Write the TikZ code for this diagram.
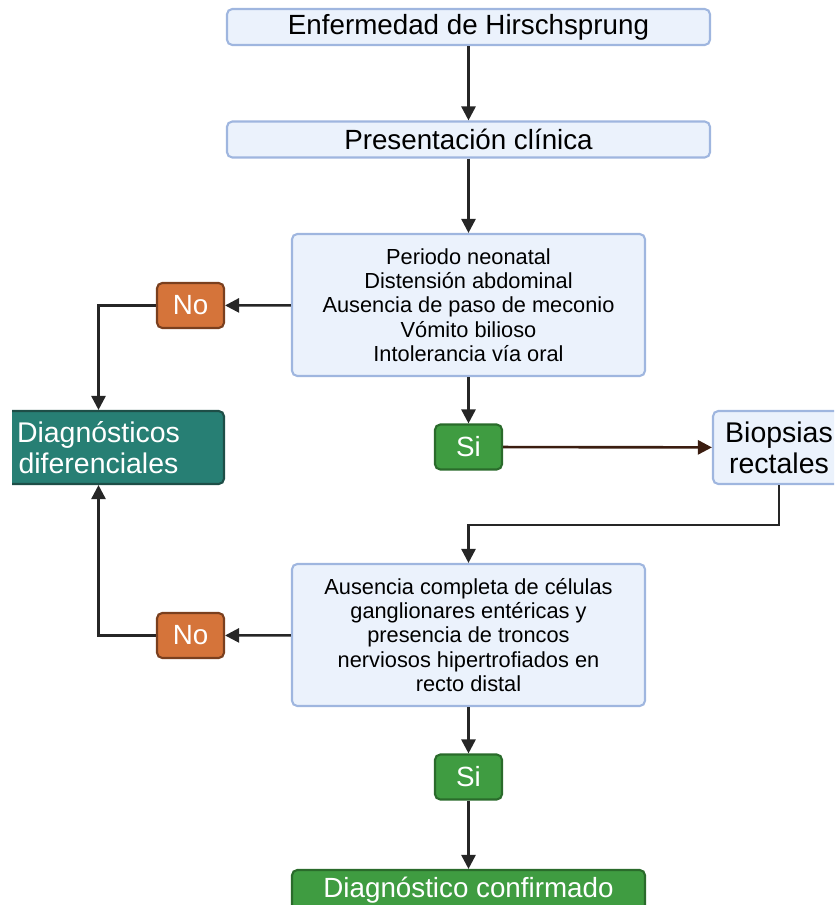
\documentclass[tikz,border=0pt]{standalone}
\usepackage{fontspec}
\setmainfont{Liberation Sans}
\usepackage{xcolor}
\usepackage{tikz}
\usetikzlibrary{arrows.meta, positioning}

\definecolor{boxfill}{HTML}{EBF2FC}
\definecolor{boxline}{HTML}{9FB6DF}
\definecolor{nofill}{HTML}{D5743A}
\definecolor{noline}{HTML}{7A3F1E}
\definecolor{sifill}{HTML}{3F9C41}
\definecolor{siline}{HTML}{2A6B2B}
\definecolor{diffill}{HTML}{277F74}
\definecolor{difline}{HTML}{1E4E47}
\definecolor{wire}{HTML}{262626}
\definecolor{brownwire}{HTML}{3B1D10}

\tikzset{
	box/.style={draw=boxline, fill=boxfill, line width=1.2pt, rounded corners=3pt, align=center, inner sep=0pt, text=black},
	bigbox/.style={box, minimum width=9.66cm, minimum height=0.72cm, font=\fontsize{15.8}{18}\selectfont},
	textbox/.style={box, minimum width=7.06cm, minimum height=2.84cm, font=\fontsize{12.4}{13.8}\selectfont},
	nobox/.style={draw=noline, fill=nofill, line width=1.2pt, rounded corners=3pt, minimum width=1.34cm, minimum height=0.9cm, inner sep=0pt, text=white, font=\fontsize{15.8}{18}\selectfont},
	sibox/.style={nobox, draw=siline, fill=sifill},
	difbox/.style={draw=difline, fill=diffill, line width=1.2pt, rounded corners=3pt, minimum width=5.02cm, minimum height=1.46cm, inner sep=0pt, align=center, text=white, font=\fontsize{16.2}{17.6}\selectfont},
	wirearrow/.style={draw=wire, line width=1.5pt, -{Triangle[length=8pt, width=8pt]}},
}

\begin{document}
\begin{tikzpicture}
	\useasboundingbox (0,0) rectangle (16.68,-18.1);
	\clip (0.24,0) rectangle (16.68,-18.1);
	% Main column:
	\node[bigbox] (hirsch) at (9.37,-0.54) {Enfermedad de Hirschsprung};
	\node[bigbox] (clinica) at (9.37,-2.79) {Presentación clínica};
	\node[textbox] (sintomas) at (9.37,-6.10) {Periodo neonatal\\Distensión abdominal\\Ausencia de paso de meconio\\Vómito bilioso\\Intolerancia vía oral};
	\node[sibox] (si1) at (9.37,-8.94) {Si};
	\node[textbox] (histo) at (9.37,-12.70) {Ausencia completa de células\\ganglionares entéricas y\\presencia de troncos\\nerviosos hipertrofiados en\\recto distal};
	\node[sibox] (si2) at (9.37,-15.54) {Si};
	\node[sibox, minimum width=7.06cm, minimum height=0.8cm] (confirmado) at (9.37,-17.8) {Diagnóstico confirmado};
	% Side branches:
	\node[nobox] (no1) at (3.81,-6.11) {No};
	\node[nobox] (no2) at (3.81,-12.71) {No};
	\node[difbox] (difer) at (1.97,-8.95) {Diagnósticos\\diferenciales};
	\node[box, minimum width=2.64cm, minimum height=1.46cm, font=\fontsize{16.2}{17.6}\selectfont] (biopsia) at (15.58,-8.95) {Biopsias\\rectales};
	% Wires:
	\draw[wirearrow] (hirsch) -- (clinica);
	\draw[wirearrow] (clinica) -- (sintomas);
	\draw[wirearrow] (sintomas) -- (si1);
	\draw[wirearrow] (sintomas) -- (no1);
	\draw[wirearrow] (no1.west) -| (difer.north);
	\draw[wirearrow, draw=brownwire] (si1) -- (biopsia);
	\draw[wirearrow] (biopsia.south) -- ++(0,-0.8) -| (histo.north);
	\draw[wirearrow] (histo) -- (no2);
	\draw[wirearrow] (no2.west) -| (difer.south);
	\draw[wirearrow] (histo) -- (si2);
	\draw[wirearrow] (si2) -- (confirmado);
\end{tikzpicture}
\end{document}
